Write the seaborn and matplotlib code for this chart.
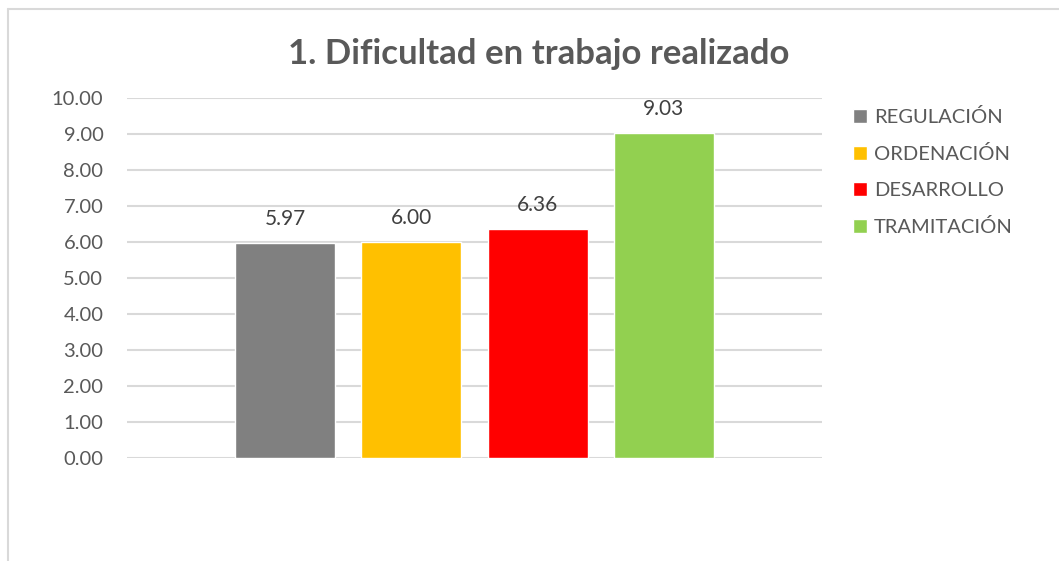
import numpy as np
import pandas as pd
import matplotlib
matplotlib.use('Agg')
import matplotlib.pyplot as plt
from matplotlib.lines import Line2D
import seaborn as sns

# ==========================================
# Data
# ==========================================
series = ['REGULACIÓN', 'ORDENACIÓN', 'DESARROLLO', 'TRAMITACIÓN']
values = [5.97, 6.00, 6.36, 9.03]
colors = ['#808080', '#FFC000', '#FF0000', '#92D050']
y_ticks = np.arange(0, 11, 1)

df = pd.DataFrame({'serie': series, 'valor': values})

# ==========================================
# Style
# ==========================================
sns.set_theme(style='white')
plt.rcParams['font.family'] = ['Lato', 'DejaVu Sans']
text_grey = '#595959'
grid_grey = '#d9d9d9'

fig = plt.figure(figsize=(10.59, 5.61), dpi=100)
ax = fig.add_axes([127 / 1059, 1 - 458 / 561, (822 - 127) / 1059, (458 - 98) / 561])

sns.barplot(data=df, x='serie', y='valor', hue='serie', palette=colors,
            width=0.79, saturation=1, legend=True, ax=ax)

# value labels on top of bars
for cont in ax.containers:
    ax.bar_label(cont, fmt='%.2f', padding=10, fontsize=15, color='#404040')

ax.set_xlim(-1.251, 4.251)
ax.set_ylim(0, 10)
ax.set_yticks(y_ticks)
ax.set_yticklabels([f'{t:.2f}' for t in y_ticks], fontsize=14.5, color=text_grey)
ax.set_xticks([])
ax.set_xlabel('')
ax.set_ylabel('')
ax.tick_params(axis='y', length=0, pad=17)
ax.yaxis.grid(True, color=grid_grey, linewidth=1.5)
ax.set_axisbelow(True)
for s in ax.spines.values():
    s.set_visible(False)

# legend on the right
handles, labels = ax.get_legend_handles_labels()
ax.legend_.remove()
leg = fig.legend(handles, labels, loc='upper left', bbox_to_anchor=(853 / 1059, 1 - 108 / 561),
                 frameon=False, fontsize=14.5, handlelength=0.7, handleheight=0.7,
                 handletextpad=0.35, labelspacing=0.95, borderpad=0, borderaxespad=0)
for t in leg.get_texts():
    t.set_color(text_grey)

# title
fig.text(0.509, 1 - 64 / 561, '1. Dificultad en trabajo realizado', ha='center', va='baseline',
         fontsize=25, fontweight='bold', color=text_grey)

# chart border (left + top edges visible)
fig.add_artist(Line2D([8 / 1059, 8 / 1059], [0, 1 - 9 / 561], color=grid_grey, linewidth=1.5))
fig.add_artist(Line2D([8 / 1059, 1], [1 - 9 / 561, 1 - 9 / 561], color=grid_grey, linewidth=1.5))

fig.savefig('out.png', dpi=100, facecolor='white')
